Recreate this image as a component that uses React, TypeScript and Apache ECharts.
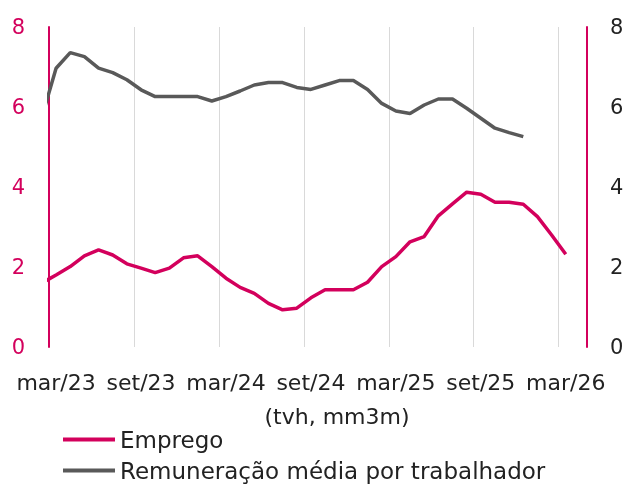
import React, { useEffect, useRef } from "react";
import * as echarts from "echarts";

// months from fev/23 (clipped lead-in point) to abr/26
const months = [
  "fev/23", "mar/23", "abr/23", "mai/23", "jun/23", "jul/23", "ago/23", "set/23", "out/23", "nov/23", "dez/23",
  "jan/24", "fev/24", "mar/24", "abr/24", "mai/24", "jun/24", "jul/24", "ago/24", "set/24", "out/24", "nov/24", "dez/24",
  "jan/25", "fev/25", "mar/25", "abr/25", "mai/25", "jun/25", "jul/25", "ago/25", "set/25", "out/25", "nov/25", "dez/25",
  "jan/26", "fev/26", "mar/26", "abr/26",
];

const emprego = [
  1.6, 1.8, 2.01, 2.28, 2.43, 2.3, 2.08, 1.97, 1.86, 1.97, 2.23,
  2.28, 2.01, 1.72, 1.49, 1.34, 1.09, 0.93, 0.97, 1.23, 1.43, 1.43, 1.43,
  1.62, 2.01, 2.26, 2.63, 2.76, 3.28, 3.58, 3.87, 3.82, 3.62, 3.62, 3.57,
  3.26, 2.8, 2.32, null,
];

const remuneracao = [
  5.75, 6.97, 7.36, 7.26, 6.97, 6.86, 6.68, 6.43, 6.26, 6.26, 6.26,
  6.26, 6.15, 6.26, 6.4, 6.55, 6.61, 6.61, 6.49, 6.44, 6.55, 6.66, 6.66,
  6.44, 6.09, 5.9, 5.84, 6.05, 6.2, 6.2, 5.97, 5.72, 5.47, 5.36, 5.26,
  null, null, null, null,
];

const yTicks = { min: 0, max: 8, interval: 2 };
const unitLabel = "(tvh, mm3m)";

const PINK = "#D3005C";
const GREY = "#595959";
const FONT = "DejaVu Sans";

export default function App() {
  const ref = useRef<HTMLDivElement>(null);
  useEffect(() => {
    if (!ref.current) return;
    const chart = echarts.init(ref.current, undefined, { renderer: "svg" });
    const toPairs = (arr: (number | null)[]) =>
      arr.map((v, i) => [i - 0.5, v]).filter((p) => p[1] !== null);
    const axisMonths = months.slice(1);
    chart.setOption({
      animation: false,
      textStyle: { fontFamily: FONT },
      grid: {
        left: 49,
        right: 36,
        top: 27,
        bottom: 137,
        containLabel: false,
        outerBoundsMode: "none",
      },
      xAxis: [
        {
          type: "value",
          min: 0,
          max: axisMonths.length,
          interval: 6,
          axisLine: { show: false },
          axisTick: { show: false },
          axisLabel: { show: false },
          splitLine: { show: true, lineStyle: { color: "#D9D9D9", width: 1 } },
        },
        {
          type: "category",
          data: axisMonths,
          boundaryGap: true,
          position: "bottom",
          axisLine: { show: false },
          axisTick: { show: false },
          splitLine: { show: false },
          axisLabel: {
            interval: 5,
            fontSize: 22,
            color: "#222",
            margin: 24,
            fontFamily: FONT,
          },
        },
      ],
      yAxis: [
        {
          type: "value",
          position: "left",
          ...yTicks,
          axisLine: { show: true, lineStyle: { color: PINK, width: 2 } },
          axisTick: { show: false },
          splitLine: { show: false },
          axisLabel: { color: PINK, fontSize: 21, margin: 24, fontFamily: FONT },
        },
        {
          type: "value",
          position: "right",
          ...yTicks,
          axisLine: { show: true, lineStyle: { color: PINK, width: 2 } },
          axisTick: { show: false },
          splitLine: { show: false },
          axisLabel: { color: "#222", fontSize: 21, margin: 23, fontFamily: FONT },
        },
      ],
      legend: {
        orient: "vertical",
        left: 63,
        top: 428,
        padding: 0,
        icon: "rect",
        itemWidth: 52,
        itemHeight: 4,
        itemGap: 8,
        textStyle: { fontSize: 23, color: "#222", lineHeight: 22, fontFamily: FONT },
        data: ["Emprego", "Remuneração média por trabalhador"],
      },
      graphic: [
        {
          type: "text",
          x: 337,
          y: 416,
          style: {
            text: unitLabel,
            fontSize: 22,
            fill: "#222",
            fontFamily: FONT,
            align: "center",
            verticalAlign: "middle",
          },
        },
      ],
      series: [
        {
          name: "Emprego",
          type: "line",
          xAxisIndex: 0,
          yAxisIndex: 0,
          data: toPairs(emprego),
          showSymbol: false,
          symbol: "none",
          clip: true,
          color: PINK,
          lineStyle: { color: PINK, width: 3.5 },
        },
        {
          name: "Remuneração média por trabalhador",
          type: "line",
          xAxisIndex: 0,
          yAxisIndex: 1,
          data: toPairs(remuneracao),
          showSymbol: false,
          symbol: "none",
          clip: true,
          color: GREY,
          lineStyle: { color: GREY, width: 3.5 },
        },
      ],
    });
    return () => chart.dispose();
  }, []);
  return (
    <div
      ref={ref}
      style={{ position: "fixed", left: 0, top: 0, width: 623, height: 484 }}
    />
  );
}
